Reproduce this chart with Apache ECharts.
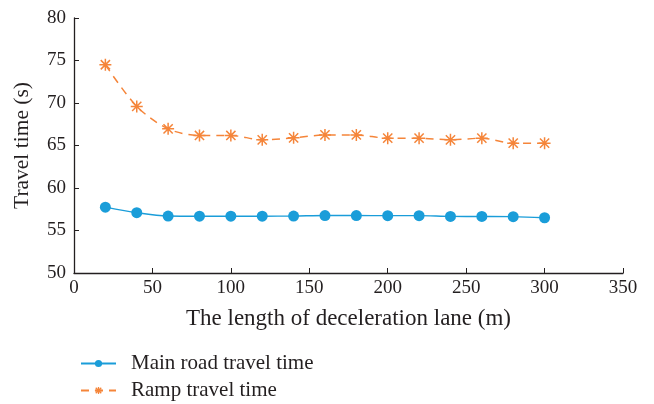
<!DOCTYPE html>
<html><head><meta charset="utf-8">
<script src="https://cdn.jsdelivr.net/npm/echarts@6/dist/echarts.min.js"></script>
<style>html,body{margin:0;padding:0;background:#fff}#c{width:654px;height:404px}</style>
</head><body><div id="c"></div>
<script>
const lengths = [20,40,60,80,100,120,140,160,180,200,220,240,260,280,300];
const mainRoad = [57.75,57.1,56.7,56.68,56.68,56.68,56.7,56.76,56.76,56.75,56.75,56.66,56.65,56.63,56.5];
const ramp = [74.5,69.6,66.96,66.18,66.18,65.67,65.9,66.24,66.24,65.86,65.86,65.67,65.86,65.27,65.27];
const seriesNames = ['Main road travel time','Ramp travel time'];
const xName = 'The length of deceleration lane (m)';
const yName = 'Travel time (s)';

const font = 'Liberation Serif';
const txt = '#231f20';
const blue = '#1a9dd9';
const orange = '#f5853a';
const star = 'path://M0,0L10,10M10,0L0,10M5,-1.5L5,11.5M-1.5,5L11.5,5';

const chart = echarts.init(document.getElementById('c'));
chart.setOption({
  animation:false,
  textStyle:{fontFamily:font,color:txt},
  grid:{left:74,top:18,right:31,bottom:131,containLabel:false},
  legend:{
    orient:'vertical',left:80,top:353,height:51,padding:0,itemWidth:35,itemHeight:9,itemGap:6,
    textStyle:{fontFamily:font,fontSize:21,color:txt,padding:[0,0,0,10]},
    data:[
      {name:seriesNames[0]},
      {name:seriesNames[1],itemStyle:{color:orange,borderColor:orange,borderWidth:1.3}}
    ]
  },
  xAxis:{
    type:'value',min:0,max:350,interval:50,
    name:xName,nameLocation:'middle',nameGap:34,
    nameTextStyle:{fontFamily:font,fontSize:23,color:txt},
    axisLine:{lineStyle:{color:'#231f20',width:1.3}},
    axisTick:{inside:true,length:5,lineStyle:{color:'#231f20'}},
    axisLabel:{fontFamily:font,fontSize:19,color:txt,margin:6},
    splitLine:{show:false}
  },
  yAxis:{
    type:'value',min:50,max:80,interval:5,
    name:yName,nameLocation:'middle',nameGap:41,
    nameTextStyle:{fontFamily:font,fontSize:21.5,color:txt},
    axisLine:{show:true,lineStyle:{color:'#231f20',width:1.3}},
    axisTick:{show:true,inside:true,length:5,lineStyle:{color:'#231f20'}},
    axisLabel:{fontFamily:font,fontSize:19,color:txt,margin:8},
    splitLine:{show:false}
  },
  series:[
    {name:seriesNames[0],type:'line',smooth:0.3,
     data:lengths.map((x,i)=>[x,mainRoad[i]]),
     symbol:'circle',symbolSize:11,showAllSymbol:true,
     lineStyle:{color:blue,width:1.4},itemStyle:{color:blue}},
    {name:seriesNames[1],type:'line',smooth:0.3,
     data:lengths.map((x,i)=>[x,ramp[i]]),
     symbol:star,symbolSize:12,showAllSymbol:true,
     lineStyle:{color:orange,width:1.5,type:[8,6]},
     itemStyle:{color:orange,borderColor:orange,borderWidth:1.5}}
  ]
});
</script></body></html>
